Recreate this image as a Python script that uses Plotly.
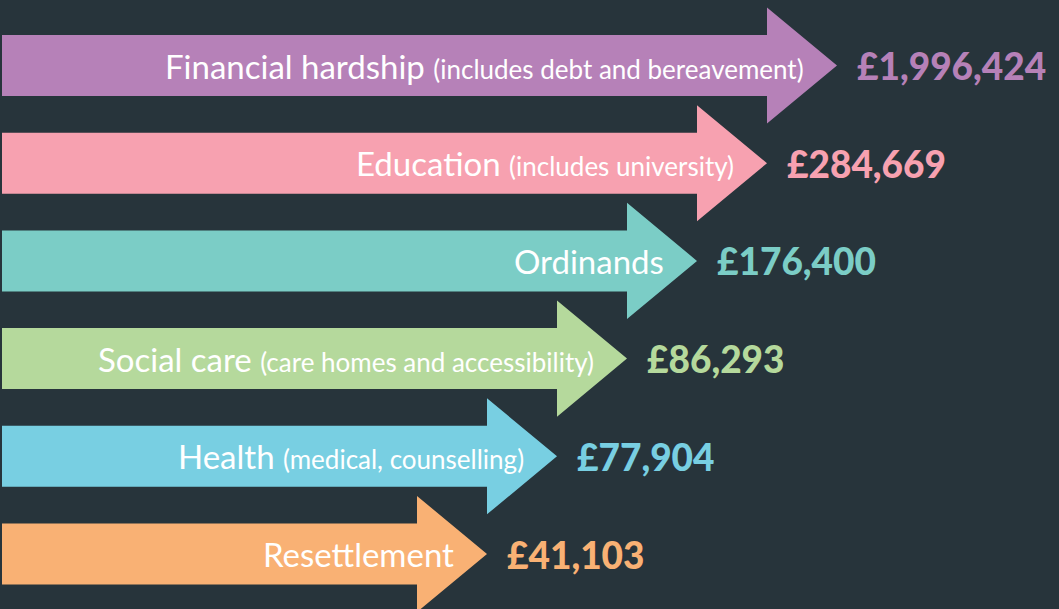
import plotly.graph_objects as go

# ---- data ----
categories = ["Financial hardship", "Education", "Ordinands", "Social care", "Health", "Resettlement"]
notes = ["(includes debt and bereavement)", "(includes university)", "",
         "(care homes and accessibility)", "(medical, counselling)", ""]
values = [1996424, 284669, 176400, 86293, 77904, 41103]
colors = ["#b681b8", "#f7a1b0", "#7bcdc6", "#b5d99c", "#78cfe2", "#f9b174"]

# ---- style constants (display units) ----
BG = "#27343b"
W, H = 1059, 609
X0 = 2            # arrow start
BASE_TIP = 487    # tip of the shortest arrow
STEP = 70         # extra length per rank
HEAD = 70         # arrowhead length
BODY_HALF = 0.312 # body half-height (row units)
HEAD_HALF = 0.594 # head half-height (row units)

n = len(values)
fig = go.Figure()

for i, (cat, note, val, col) in enumerate(zip(categories, notes, values, colors)):
    rank = sum(1 for v in values if v < val)  # arrows are ordered by value
    tip = BASE_TIP + STEP * rank
    neck = tip - HEAD
    y = i
    xs = [X0, neck, neck, tip, neck, neck, X0, X0]
    ys = [y - BODY_HALF, y - BODY_HALF, y - HEAD_HALF, y, y + HEAD_HALF, y + BODY_HALF, y + BODY_HALF, y - BODY_HALF]
    fig.add_trace(go.Scatter(x=xs, y=ys, mode="lines", fill="toself", fillcolor=col,
                             line=dict(width=0, color=col), hoverinfo="skip", showlegend=False))
    label = cat
    if note:
        label += " <span style='font-size:26px'>" + note + "</span>"
    fig.add_annotation(x=tip - 31, y=y, text=label, showarrow=False, xanchor="right", yanchor="middle",
                       font=dict(family="Lato", size=33, color="white"))
    fig.add_annotation(x=tip + 18, y=y, text="£{:,}".format(val), showarrow=False,
                       xanchor="left", yanchor="middle",
                       font=dict(family="Lato", size=37, color=col, weight=900))

spacing = 97.7
c0 = 65.5
fig.update_layout(
    width=W, height=H,
    margin=dict(l=0, r=0, t=0, b=0),
    paper_bgcolor=BG, plot_bgcolor=BG,
    xaxis=dict(range=[0, W], visible=False, fixedrange=True),
    yaxis=dict(range=[(H - c0) / spacing, -c0 / spacing], visible=False, fixedrange=True),
    showlegend=False,
)

fig.write_html("out.html", config={"displayModeBar": False},
               post_script="document.body.style.margin='0';document.body.style.background='%s';" % BG)
